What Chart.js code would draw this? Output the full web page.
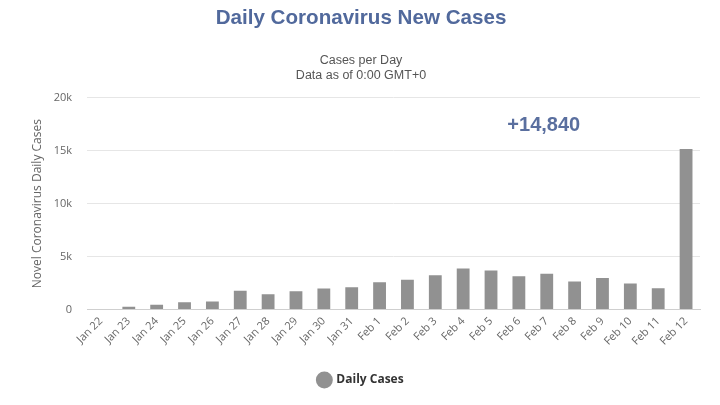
<!DOCTYPE html>
<html>
<head>
<meta charset="utf-8">
<script src="https://cdn.jsdelivr.net/npm/chart.js@4/dist/chart.umd.min.js"></script>
<style>
html,body{margin:0;padding:0;background:#fff;}
#wrap{width:720px;height:405px;position:relative;}
</style>
</head>
<body>
<div id="wrap"><canvas id="c"></canvas></div>
<script>
const categories = ["Jan 22","Jan 23","Jan 24","Jan 25","Jan 26","Jan 27","Jan 28","Jan 29","Jan 30","Jan 31","Feb 1","Feb 2","Feb 3","Feb 4","Feb 5","Feb 6","Feb 7","Feb 8","Feb 9","Feb 10","Feb 11","Feb 12"];
const dailyCases = [null,259,457,688,769,1771,1459,1737,1981,2099,2589,2825,3235,3884,3694,3143,3385,2652,2973,2467,2015,15152];
const yTickValues = [0,5000,10000,15000,20000];
const yTickLabels = ["0","5k","10k","15k","20k"];
const annotationText = "+14,840";
const annotationCategory = "Feb 7";
const annotationValue = 17400;

const annotationPlugin = {
  id: 'annot',
  afterDatasetsDraw(chart) {
    const {ctx, scales} = chart;
    const x = scales.x.getPixelForValue(categories.indexOf(annotationCategory)) - 3;
    const y = scales.y.getPixelForValue(annotationValue);
    ctx.save();
    ctx.font = 'bold 20px "Liberation Sans", Arial, sans-serif';
    ctx.fillStyle = '#5a6f9f';
    ctx.textAlign = 'center';
    ctx.textBaseline = 'middle';
    ctx.fillText(annotationText, x, y);
    ctx.restore();
  }
};

new Chart(document.getElementById('c'), {
  type: 'bar',
  data: {
    labels: categories,
    datasets: [{
      label: 'Daily Cases',
      data: dailyCases,
      backgroundColor: '#919191',
      borderWidth: 0,
      categoryPercentage: 1,
      barPercentage: 0.46
    }]
  },
  options: {
    responsive: true,
    maintainAspectRatio: false,
    animation: false,
    devicePixelRatio: 1,
    layout: { padding: { left: 22, right: 20, top: 0, bottom: 9 } },
    plugins: {
      title: {
        display: true,
        text: 'Daily Coronavirus New Cases',
        color: '#51699c',
        font: { family: '"Liberation Sans", Arial, sans-serif', size: 20.6, weight: 'bold' },
        padding: { top: 6, bottom: 19 }
      },
      subtitle: {
        display: true,
        text: ['Cases per Day', 'Data as of 0:00 GMT+0'],
        color: '#555',
        font: { family: '"Liberation Sans Narrow", "Liberation Sans", Arial, sans-serif', size: 12.5 },
        lineHeight: 1.15,
        padding: { top: 3, bottom: 15 }
      },
      legend: {
        display: true,
        position: 'bottom',
        labels: {
          usePointStyle: true,
          pointStyle: 'circle',
          boxWidth: 12,
          boxHeight: 12,
          color: '#333',
          font: { family: '"Open Sans", sans-serif', size: 12, weight: 'bold' },
          padding: 12
        }
      },
      tooltip: { enabled: false }
    },
    scales: {
      x: {
        grid: { display: false, drawTicks: false },
        border: { display: true, color: '#cfcfcf' },
        afterFit(axis) { axis.height += 9; },
        ticks: {
          color: '#666',
          font: { family: '"Open Sans", sans-serif', size: 11 },
          minRotation: 45,
          maxRotation: 45,
          autoSkip: false,
          padding: 5
        }
      },
      y: {
        min: 0,
        max: 20000,
        afterBuildTicks(axis) { axis.ticks = yTickValues.map(v => ({ value: v })); },
        afterFit(axis) { axis.width = 65; },
        grid: { color: '#e6e6e6', drawTicks: false },
        border: { display: false },
        ticks: {
          color: '#666',
          font: { family: '"Open Sans", sans-serif', size: 11 },
          padding: 15,
          callback(v) { const i = yTickValues.indexOf(v); return i >= 0 ? yTickLabels[i] : ''; }
        },
        title: {
          display: true,
          text: 'Novel Coronavirus Daily Cases',
          color: '#666',
          font: { family: '"Open Sans", sans-serif', size: 12 },
          padding: { top: 8, bottom: 0 }
        }
      }
    }
  },
  plugins: [annotationPlugin]
});
</script>
</body>
</html>
